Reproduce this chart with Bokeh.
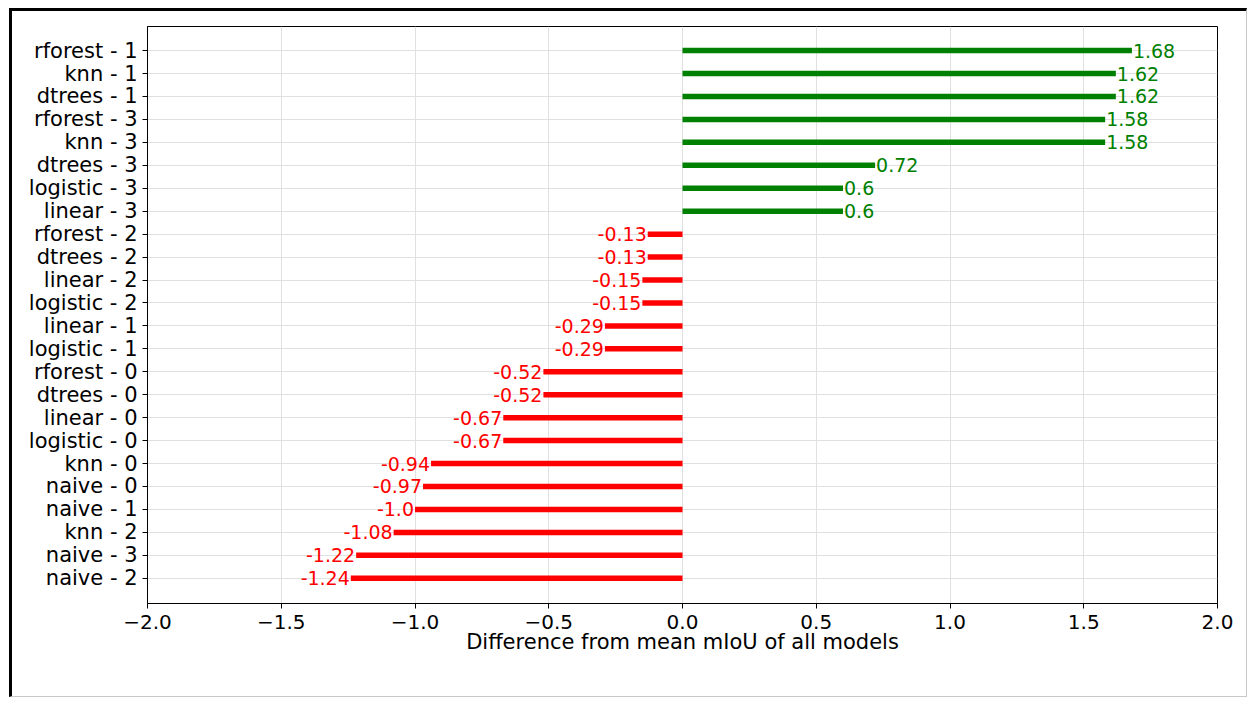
from bokeh.plotting import figure
from bokeh.models import ColumnDataSource, FixedTicker, Range1d
from bokeh.core.properties import value
from bokeh.embed import file_html
from bokeh.resources import INLINE

categories = ["rforest - 1", "knn - 1", "dtrees - 1", "rforest - 3", "knn - 3",
              "dtrees - 3", "logistic - 3", "linear - 3", "rforest - 2", "dtrees - 2",
              "linear - 2", "logistic - 2", "linear - 1", "logistic - 1", "rforest - 0",
              "dtrees - 0", "linear - 0", "logistic - 0", "knn - 0", "naive - 0",
              "naive - 1", "knn - 2", "naive - 3", "naive - 2"]
diffs = [1.68, 1.62, 1.62, 1.58, 1.58, 0.72, 0.6, 0.6, -0.13, -0.13,
         -0.15, -0.15, -0.29, -0.29, -0.52, -0.52, -0.67, -0.67, -0.94, -0.97,
         -1.0, -1.08, -1.22, -1.24]
x_ticks = [-2.0, -1.5, -1.0, -0.5, 0.0, 0.5, 1.0, 1.5, 2.0]
x_label = "Difference from mean mIoU of all models"

n = len(categories)
ypos = [n - 1 - i for i in range(n)]
colors = ["green" if d > 0 else "red" for d in diffs]
labels = [str(d) for d in diffs]

pos = [i for i, d in enumerate(diffs) if d > 0]
neg = [i for i, d in enumerate(diffs) if d <= 0]

def src(idx):
    return ColumnDataSource(dict(
        y=[ypos[i] for i in idx],
        x0=[0.0 for _ in idx],
        x1=[diffs[i] for i in idx],
        c=[colors[i] for i in idx],
        t=[labels[i] for i in idx],
    ))

FONT = "DejaVu Sans"

p = figure(width=1238, height=689, output_backend="svg", toolbar_location=None,
           x_range=Range1d(-2.0, 2.0), y_range=Range1d(-1.1, n - 1 + 1.05),
           min_border_left=135, min_border_right=33, min_border_top=15,
           min_border_bottom=97)
p.styles = {"margin-left": "9px", "margin-top": "8px",
            "border-top": "3px solid black", "border-left": "3px solid black",
            "border-right": "1px solid #c8c8c8", "border-bottom": "1px solid #c8c8c8"}

for idx in (pos, neg):
    s = src(idx)
    p.segment(x0="x0", y0="y", x1="x1", y1="y", color="c", line_width=5.5, source=s)

sp = src(pos)
p.text(x="x1", y="y", text="t", color="c", source=sp, text_align="left",
       text_baseline="middle", text_font=value(FONT), text_font_size="19px", x_offset=1)
sn = src(neg)
p.text(x="x1", y="y", text="t", color="c", source=sn, text_align="right",
       text_baseline="middle", text_font=value(FONT), text_font_size="19px", x_offset=-1)

p.xaxis.ticker = FixedTicker(ticks=x_ticks)
p.xaxis.major_label_overrides = {t: ("%.1f" % t).replace("-", "\u2212") for t in x_ticks}
p.yaxis.ticker = FixedTicker(ticks=ypos)
p.yaxis.major_label_overrides = {ypos[i]: categories[i] for i in range(n)}
p.xaxis.axis_label = x_label

for ax in (p.xaxis, p.yaxis):
    ax.major_label_text_font = FONT
    ax.major_label_text_color = "black"
    ax.axis_line_color = "black"
    ax.major_tick_line_color = "black"
    ax.major_tick_in = 0
    ax.major_tick_out = 5
    ax.minor_tick_line_color = None
p.xaxis.major_label_text_font_size = "20px"
p.yaxis.major_label_text_font_size = "21px"
p.xaxis.axis_label_text_font = FONT
p.xaxis.axis_label_text_font_size = "21px"
p.xaxis.axis_label_text_font_style = "normal"
p.xaxis.axis_label_text_color = "black"
p.xaxis.axis_label_standoff = -2
p.xaxis.major_label_standoff = 6
p.yaxis.major_label_standoff = 5

p.xgrid.grid_line_color = "#e0e0e0"
p.ygrid.grid_line_color = "#e0e0e0"
p.xgrid.ticker = FixedTicker(ticks=x_ticks)
p.ygrid.ticker = FixedTicker(ticks=ypos)
p.outline_line_color = "black"
p.outline_line_width = 1
p.background_fill_color = "white"
p.border_fill_color = "white"

open("out.html", "w").write(file_html(p, INLINE))
